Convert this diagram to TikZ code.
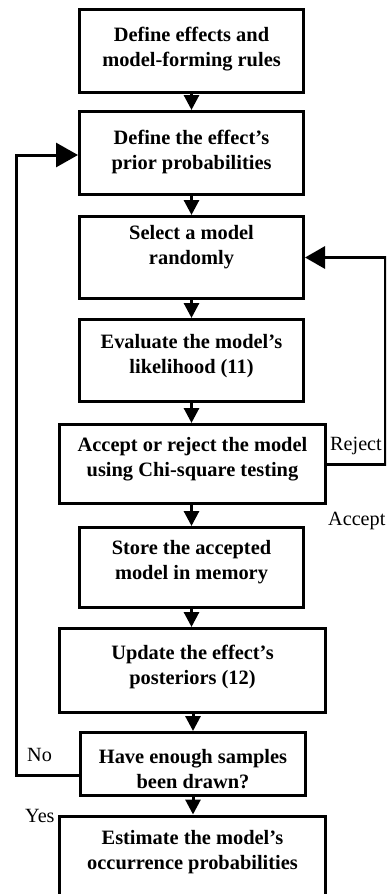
\documentclass[tikz,border=0pt]{standalone}
\usepackage{fontspec}
\setmainfont{Liberation Serif}
\usetikzlibrary{arrows.meta}
\tikzset{
  box/.style={draw, line width=3pt, inner sep=0pt},
  txt/.style={font=\fontsize{20.4}{25}\selectfont\bfseries, align=center, inner sep=0pt},
  lab/.style={font=\fontsize{20.2}{25}\selectfont, inner sep=0pt, anchor=base west},
  flow/.style={line width=3pt, -{Triangle[length=15pt,width=15pt]}},
  loop/.style={line width=3pt, -{Triangle[length=22pt,width=24pt]}},
}
\begin{document}
\begin{tikzpicture}[x=1pt,y=-1pt]
\useasboundingbox (0,0) rectangle (386,894);
\clip (0,0) rectangle (386,894);
% boxes
\node[box, minimum width=224pt, minimum height=83pt] (b1) at (191.5,51) {};
\node[box, minimum width=224pt, minimum height=83pt] (b2) at (191.5,153) {};
\node[box, minimum width=224pt, minimum height=82pt] (b3) at (191.5,257.5) {};
\node[box, minimum width=224pt, minimum height=82pt] (b4) at (191.5,360.5) {};
\node[box, minimum width=266pt, minimum height=79pt] (b5) at (192.5,464) {};
\node[box, minimum width=224pt, minimum height=80pt] (b6) at (191.5,567.5) {};
\node[box, minimum width=266pt, minimum height=84pt] (b7) at (192.5,670.5) {};
\node[box, minimum width=225pt, minimum height=63pt] (b8) at (193,764) {};
\node[box, minimum width=266pt, minimum height=89pt] (b9) at (192.5,860.5) {};
% texts
\node[txt] (t1) at (191.5,49) {Define effects and\\model-forming rules};
\node[txt] (t2) at (191.5,151.5) {Define the effect’s\\prior probabilities};
\node[txt] (t3) at (191.5,247) {Select a model\\randomly};
\node[txt] (t4) at (191.5,356.5) {Evaluate the model’s\\likelihood (11)};
\node[txt] (t5) at (192.5,459.5) {Accept or reject the model\\using Chi-square testing};
\node[txt] (t6) at (191.5,562.5) {Store the accepted\\model in memory};
\node[txt] (t7) at (192.5,666.5) {Update the effect’s\\posteriors (12)};
\node[txt] (t8) at (193,769) {Have enough samples\\been drawn?};
\node[txt] (t9) at (192.5,852) {Estimate the model’s\\occurrence probabilities};
% labels
\node[lab] (lr) at (330,450) {Reject};
\node[lab] (la) at (328,525) {Accept};
\node[lab] (ln) at (27,761) {No};
\node[lab] (ly) at (25,822) {Yes};
% flow arrows
\draw[flow] (b1.south) -- (b1.south |- b2.north);
\draw[flow] (b2.south) -- (b2.south |- b3.north);
\draw[flow] (b3.south) -- (b3.south |- b4.north);
\draw[flow] (b4.south) -- (b4.south |- b5.north);
\draw[flow] (b6.north |- b5.south) -- (b6.north);
\draw[flow] (b6.south) -- (b6.south |- b7.north);
\draw[flow] (b8.north |- b7.south) -- (b8.north);
\draw[flow] (b8.south) -- (b8.south |- b9.north);
% loops
\coordinate (nl) at (16.5,775);
\coordinate (rr) at (385.5,464);
\draw[loop] ([yshift=-11pt]b8.west) -- (nl) |- ([yshift=-2pt]b2.west);
\draw[loop, -{Triangle[length=20pt,width=22pt]}] (b5.east) -- (rr) |- (b3.east);
\end{tikzpicture}
\end{document}
